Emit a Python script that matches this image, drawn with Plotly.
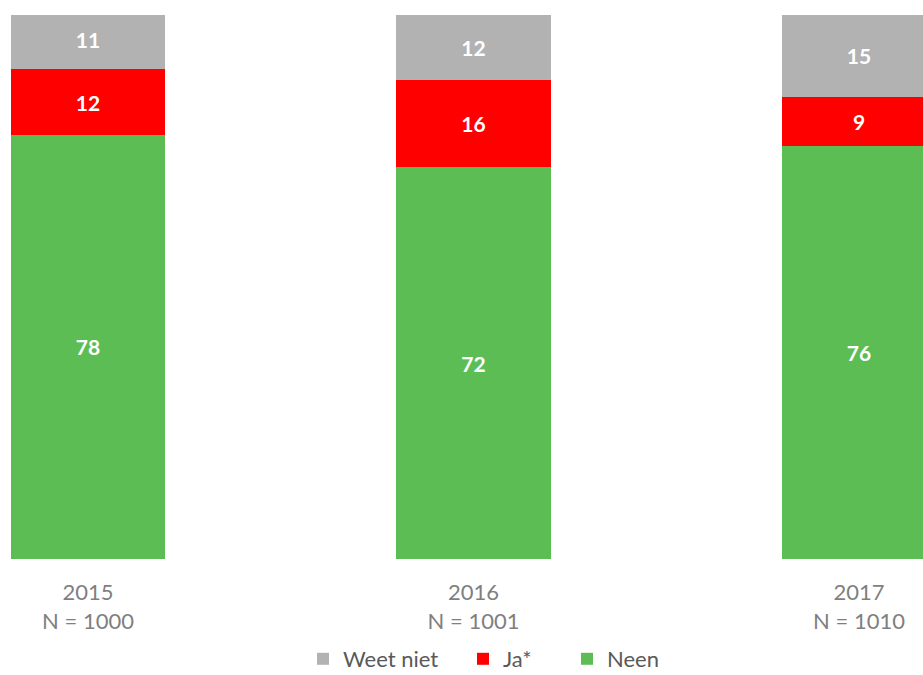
import plotly.graph_objects as go

categories = ["2015<br>N = 1000", "2016<br>N = 1001", "2017<br>N = 1010"]
neen = [78, 72, 76]
ja = [12, 16, 9]
weet_niet = [11, 12, 15]

series = [
    ("Neen", neen, "#5dbd55", "legend3", 581),
    ("Ja*", ja, "#ff0000", "legend2", 477),
    ("Weet niet", weet_niet, "#b2b2b2", "legend", 317),
]

W, H = 923, 675
fig = go.Figure()
legends = {}
for name, vals, color, leg, sqx in series:
    fig.add_trace(go.Bar(
        x=list(range(len(categories))), y=vals, name=name,
        marker=dict(color=color, line=dict(width=0)),
        width=0.4,
        text=[str(v) for v in vals], textposition="inside",
        insidetextanchor="middle",
        textfont=dict(family="Lato", size=21, color="white", weight="bold"),
        hoverinfo="skip",
        legend=leg,
    ))
    legends[leg] = dict(
        orientation="h", x=(sqx - 14) / W, xanchor="left",
        y=(H - 659) / H, yref="container", yanchor="middle",
        font=dict(family="Lato", size=22, color="#595959"),
        bgcolor="rgba(0,0,0,0)",
    )

fig.update_layout(
    barmode="stack",
    width=W, height=H,
    margin=dict(l=0, r=0, t=15, b=116, autoexpand=False),
    plot_bgcolor="white", paper_bgcolor="white",
    xaxis=dict(
        range=[-88 / 385.5, (923 - 88) / 385.5],
        tickmode="array", tickvals=list(range(len(categories))), ticktext=categories,
        showgrid=False, zeroline=False, showline=False, ticks="",
        tickfont=dict(family="Lato", size=22, color="#7f7f7f"),
        ticklabelstandoff=18, automargin=False,
    ),
    yaxis=dict(range=[0, 100], visible=False, showgrid=False, automargin=False),
    showlegend=True,
    **legends,
)

fig.write_html("out.html", config={"displayModeBar": False},
               post_script="document.body.style.margin='0';document.body.style.overflow='hidden';")
